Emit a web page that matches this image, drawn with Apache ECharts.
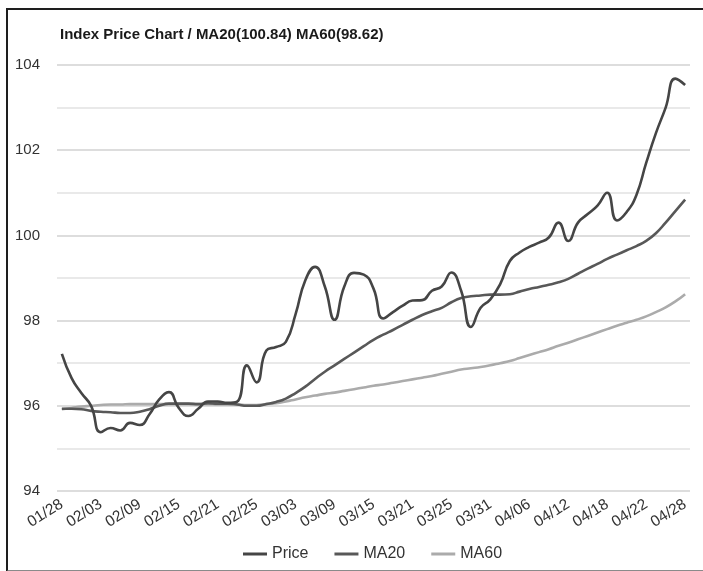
<!DOCTYPE html>
<html>
<head>
<meta charset="utf-8">
<script src="https://cdn.jsdelivr.net/npm/echarts@6/dist/echarts.min.js"></script>
<style>
  html, body { margin: 0; padding: 0; background: #fff; }
  #main { width: 703px; height: 571px; }
  #frame {
    position: absolute; left: 6px; top: 8px; width: 700px; height: 560px;
    border-left: 2px solid #1e1e1e; border-top: 2px solid #1e1e1e;
    border-bottom: 2px solid #8a8a8a; pointer-events: none;
  }
</style>
</head>
<body>
<div id="main"></div>
<div id="frame"></div>
<script>
var dates = [
  '01/28', '01/29', '01/30', '01/31', '02/03', '02/04', '02/05', '02/06', '02/09',
  '02/10', '02/11', '02/12', '02/15', '02/16', '02/18', '02/19', '02/21',
  '02/22', '02/23', '02/24', '02/25', '02/26', '02/27', '02/28', '03/03',
  '03/04', '03/05', '03/06', '03/09', '03/10', '03/11', '03/12', '03/15',
  '03/16', '03/17', '03/18', '03/21', '03/22', '03/23', '03/24', '03/25',
  '03/26', '03/27', '03/28', '03/31', '04/01', '04/02', '04/03', '04/06',
  '04/07', '04/08', '04/09', '04/12', '04/13', '04/14', '04/15', '04/18',
  '04/19', '04/20', '04/21', '04/22', '04/23', '04/24', '04/25', '04/28'
];

var price = [
  97.22, 96.65, 96.30, 96.00, 95.38, 95.48, 95.42, 95.60, 95.55, 95.80,
  96.15, 96.32, 95.95, 95.76, 95.93, 96.10, 96.10, 96.07, 96.10, 96.95,
  96.55, 97.30, 97.38, 97.50, 98.15, 98.95, 99.26, 98.80, 98.02, 98.80,
  99.12, 99.08, 98.75, 98.05, 98.20, 98.35, 98.47, 98.48, 98.70, 98.80,
  99.13, 98.70, 97.85, 98.30, 98.50, 98.85, 99.40, 99.60, 99.73, 99.83,
  99.95, 100.30, 99.87, 100.30, 100.50, 100.70, 101.00, 100.35, 100.55, 100.95,
  101.70, 102.40, 103.00, 103.68, 103.53
];

var ma20 = [
  95.93, 95.93, 95.92, 95.88, 95.86, 95.85, 95.83, 95.83, 95.86, 95.92,
  96.00, 96.05, 96.05, 96.05, 96.04, 96.06, 96.05, 96.05, 96.03, 96.00,
  96.00, 96.04, 96.09, 96.17, 96.30, 96.45, 96.63, 96.80, 96.95, 97.10,
  97.25, 97.40, 97.55, 97.67, 97.78, 97.90, 98.02, 98.13, 98.22, 98.30,
  98.43, 98.53, 98.57, 98.59, 98.61, 98.61, 98.62, 98.68, 98.74, 98.79,
  98.84, 98.90, 98.98, 99.10, 99.22, 99.33, 99.45, 99.55, 99.65, 99.75,
  99.87, 100.05, 100.30, 100.57, 100.84
];

var ma60 = [
  95.92, 95.95, 95.98, 96.00, 96.02, 96.03, 96.03, 96.04, 96.04, 96.04,
  96.04, 96.04, 96.04, 96.04, 96.04, 96.04, 96.03, 96.03, 96.03, 96.02,
  96.02, 96.04, 96.06, 96.10, 96.15, 96.20, 96.24, 96.28, 96.31, 96.35,
  96.39, 96.43, 96.47, 96.50, 96.54, 96.58, 96.62, 96.66, 96.70, 96.75,
  96.80, 96.85, 96.88, 96.91, 96.95, 97.00, 97.05, 97.12, 97.19, 97.26,
  97.33, 97.41, 97.48, 97.56, 97.64, 97.72, 97.80, 97.88, 97.95, 98.02,
  98.10, 98.20, 98.31, 98.45, 98.62
];

var seriesNames = ['Price', 'MA20', 'MA60'];
var seriesColors = ['#454545', '#585858', '#ababab'];

var font = '"Liberation Sans", Arial, sans-serif';
var chart = echarts.init(document.getElementById('main'));

function lineSeries(idx, data) {
  return {
    name: seriesNames[idx],
    type: 'line',
    data: data,
    smooth: true,
    showSymbol: false,
    lineStyle: { width: 2.6, color: seriesColors[idx] },
    itemStyle: { color: seriesColors[idx] }
  };
}

chart.setOption({
  animation: false,
  title: {
    text: 'Index Price Chart / MA20(' + ma20[ma20.length - 1].toFixed(2) + ') MA60(' + ma60[ma60.length - 1].toFixed(2) + ')',
    left: 55,
    top: 22,
    textStyle: { fontFamily: font, fontSize: 15, fontWeight: 'bold', color: '#1a1a1a' }
  },
  legend: {
    bottom: 4,
    left: 238,
    itemWidth: 24,
    itemHeight: 3,
    itemGap: 26,
    icon: 'rect',
    textStyle: { fontFamily: font, fontSize: 16, color: '#333' },
    data: seriesNames
  },
  grid: { left: 57, right: 13, top: 65, bottom: 80 },
  xAxis: {
    type: 'category',
    data: dates,
    boundaryGap: true,
    axisLine: { show: false },
    axisTick: { show: false },
    axisLabel: {
      interval: 3,
      rotate: 32,
      margin: 12,
      fontFamily: font,
      fontSize: 15.5,
      color: '#333'
    }
  },
  yAxis: {
    type: 'value',
    min: 94,
    max: 104,
    interval: 2,
    axisLine: { show: false },
    axisTick: { show: false },
    axisLabel: { fontFamily: font, fontSize: 15, color: '#333', margin: 17 },
    splitLine: { lineStyle: { color: '#d2d2d2', width: 1.5 } },
    minorTick: { show: false, splitNumber: 2 },
    minorSplitLine: { show: true, lineStyle: { color: '#e2e2e2', width: 1.5 } }
  },
  series: [
    lineSeries(2, ma60),
    lineSeries(1, ma20),
    lineSeries(0, price)
  ]
});
</script>
</body>
</html>
